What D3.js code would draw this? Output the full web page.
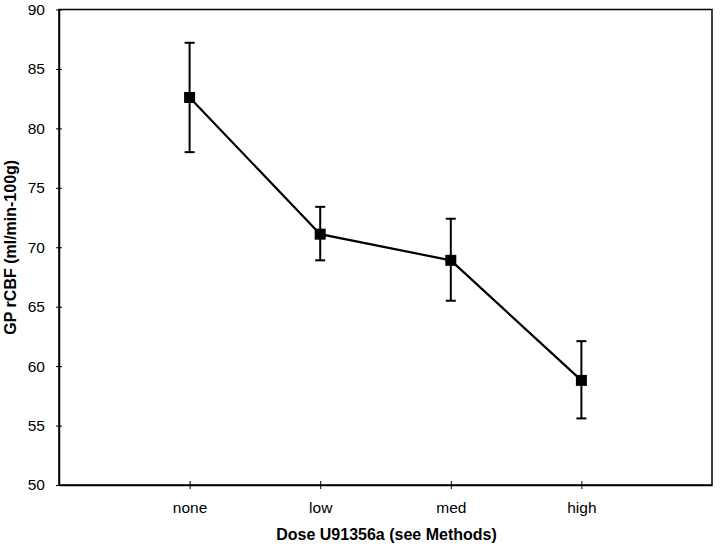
<!DOCTYPE html>
<html>
<head>
<meta charset="utf-8">
<script src="https://cdn.jsdelivr.net/npm/d3@7"></script>
<style>
  body { margin: 0; background: #fff; }
  svg { display: block; font-family: "Liberation Sans", Arial, sans-serif; }
</style>
</head>
<body>
<div id="chart"></div>
<script>
// dados
const doses = ["none", "low", "med", "high"];
const means = [82.6, 71.1, 68.9, 58.8];
const errUpper = [87.2, 73.4, 72.4, 62.1];
const errLower = [78.0, 68.9, 65.5, 55.6];
const yTicks = [50, 55, 60, 65, 70, 75, 80, 85, 90];

const width = 720;
const height = 546;
const margin = { top: 9.5, right: 8, bottom: 61, left: 59 };

const svg = d3
  .select("#chart")
  .append("svg")
  .attr("width", width)
  .attr("height", height);

// 4 categorias + um espaço vazio à direita
const x = d3
  .scaleLinear()
  .domain([0, doses.length + 1])
  .range([margin.left, width - margin.right]);

const y = d3
  .scaleLinear()
  .domain([50, 90])
  .range([height - margin.bottom, margin.top]);

const pts = doses.map((d, i) => ({
  name: d,
  i: i + 1,
  mean: means[i],
  hi: errUpper[i],
  lo: errLower[i],
}));

// moldura
svg
  .append("rect")
  .attr("x", x(0))
  .attr("y", y(90))
  .attr("width", x(doses.length + 1) - x(0))
  .attr("height", y(50) - y(90))
  .attr("fill", "none")
  .attr("stroke", "#000")
  .attr("stroke-width", 1.5);

// eixo Y
const yAxis = svg
  .append("g")
  .attr("transform", `translate(${x(0)},0)`)
  .call(d3.axisLeft(y).tickValues(yTicks).tickSize(3).tickSizeOuter(0));
yAxis.select(".domain").attr("stroke-width", 1.5);
yAxis.selectAll(".tick line").attr("x2", 3).attr("x1", -3).attr("stroke-width", 1);
yAxis
  .selectAll(".tick text")
  .attr("x", -14)
  .attr("font-size", "15.5px")
  .attr("font-family", "Liberation Sans, Arial, sans-serif")
  .attr("fill", "#000");

// eixo X
const xAxis = svg
  .append("g")
  .attr("transform", `translate(0,${y(50)})`)
  .call(
    d3
      .axisBottom(x)
      .tickValues(pts.map((d) => d.i))
      .tickFormat((d) => doses[d - 1])
      .tickSize(3)
      .tickSizeOuter(0)
  );
xAxis.select(".domain").attr("stroke-width", 1.5);
xAxis.selectAll(".tick line").attr("y1", -4).attr("y2", 4).attr("stroke-width", 1);
xAxis
  .selectAll(".tick text")
  .attr("y", 17)
  .attr("font-size", "15.5px")
  .attr("font-family", "Liberation Sans, Arial, sans-serif")
  .attr("fill", "#000");

// títulos
svg
  .append("text")
  .attr("x", (x(0) + x(doses.length + 1)) / 2 + 1)
  .attr("y", 540)
  .attr("text-anchor", "middle")
  .attr("font-size", "16px")
  .attr("font-weight", "bold")
  .text("Dose U91356a (see Methods)");

svg
  .append("text")
  .attr("transform", `translate(16,${(y(50) + y(90)) / 2})rotate(-90)`)
  .attr("text-anchor", "middle")
  .attr("font-size", "16px")
  .attr("font-weight", "bold")
  .text("GP rCBF (ml/min-100g)");

// barras de erro
const capW = 5;
const eb = svg.append("g").attr("stroke", "#000").attr("stroke-width", 2);
eb.selectAll(".v")
  .data(pts)
  .join("line")
  .attr("x1", (d) => x(d.i))
  .attr("x2", (d) => x(d.i))
  .attr("y1", (d) => y(d.hi))
  .attr("y2", (d) => y(d.lo));
eb.selectAll(".cap-hi")
  .data(pts)
  .join("line")
  .attr("class", "cap-hi")
  .attr("x1", (d) => x(d.i) - capW)
  .attr("x2", (d) => x(d.i) + capW)
  .attr("y1", (d) => y(d.hi))
  .attr("y2", (d) => y(d.hi));
eb.selectAll(".cap-lo")
  .data(pts)
  .join("line")
  .attr("class", "cap-lo")
  .attr("x1", (d) => x(d.i) - capW)
  .attr("x2", (d) => x(d.i) + capW)
  .attr("y1", (d) => y(d.lo))
  .attr("y2", (d) => y(d.lo));

// linha
const line = d3
  .line()
  .x((d) => x(d.i))
  .y((d) => y(d.mean));
svg
  .append("path")
  .datum(pts)
  .attr("d", line)
  .attr("fill", "none")
  .attr("stroke", "#000")
  .attr("stroke-width", 2.2);

// marcadores
const mk = 11;
svg
  .selectAll(".marker")
  .data(pts)
  .join("rect")
  .attr("class", "marker")
  .attr("x", (d) => x(d.i) - mk / 2)
  .attr("y", (d) => y(d.mean) - mk / 2)
  .attr("width", mk)
  .attr("height", mk)
  .attr("fill", "#000");
</script>
</body>
</html>
